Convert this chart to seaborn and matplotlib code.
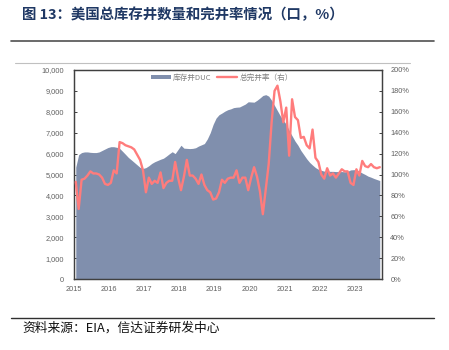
import numpy as np
import pandas as pd
import matplotlib
matplotlib.use("Agg")
import matplotlib.pyplot as plt
from matplotlib.lines import Line2D
from matplotlib.patches import Patch
from matplotlib.ticker import FuncFormatter, MultipleLocator
import seaborn as sns

# ---- data (monthly, Jan 2015 - Sep 2023) ----
duc = [5350, 5950, 6050, 6080, 6080, 6060, 6050, 6050, 6080, 6150, 6220, 6290,
       6330, 6330, 6300, 6250, 6110, 5965, 5815, 5700, 5580, 5460, 5340, 5290,
       5330, 5420, 5530, 5610, 5670, 5730, 5780, 5880, 5990, 6090, 6000, 6200,
       6400, 6260, 6250, 6240, 6250, 6280, 6360, 6420, 6480, 6700, 7000, 7400,
       7700, 7860, 7940, 8030, 8100, 8140, 8200, 8220, 8230, 8300, 8370, 8480,
       8470, 8460, 8550, 8660, 8780, 8820, 8750, 8550, 8300, 8050, 7800, 7600,
       7400, 7100, 6850, 6600, 6400, 6150, 5950, 5750, 5580, 5450, 5330, 5250,
       5200, 5160, 5150, 5150, 5150, 5140, 5140, 5140, 5130, 5150, 5220, 5230,
       5230, 5150, 5070, 5000, 4920, 4870, 4810, 4760, 4710]
rate = [93, 67, 95, 96, 99, 103, 101, 101, 100, 97, 91, 90,
        92, 104, 101, 131, 130, 128, 127, 126, 124, 119, 114, 104,
        83, 97, 91, 94, 92, 102, 87, 92, 94, 94, 112, 97,
        85, 98, 114, 99, 99, 96, 91, 100, 90, 85, 83, 76,
        77, 83, 95, 92, 96, 97, 97, 104, 92, 97, 97, 85,
        97, 107, 98, 84, 62, 86, 110, 150, 180, 185, 170, 150,
        164, 118, 172, 155, 152, 135, 136, 128, 125, 143, 116, 112,
        100, 96, 106, 99, 101, 97, 101, 105, 103, 103, 92, 90,
        105, 99, 113, 108, 107, 110, 107, 106, 107]
years = [2015, 2016, 2017, 2018, 2019, 2020, 2021, 2022, 2023]
left_ticks = list(range(0, 10001, 1000))
right_ticks = list(range(0, 201, 20))
duc_label = "库存井DUC"
rate_label = "总完井率（右）"
title = "图 13：美国总库存井数量和完井率情况（口，%）"
source = "资料来源：EIA，信达证券研发中心"

months = pd.date_range("2015-01-01", periods=len(duc), freq="MS")
df = pd.DataFrame({"date": months, "duc": duc, "rate": rate})
df["t"] = df["date"].dt.year + (df["date"].dt.month - 1 + 0.6) / 12.0

sns.set_style("white")
plt.rcParams["font.family"] = ["Liberation Sans", "Noto Sans CJK SC", "DejaVu Sans"]

fig = plt.figure(figsize=(4.49, 3.5), dpi=100)
ax = fig.add_axes([74 / 449, 1 - 279 / 350, 308 / 449, 209 / 350])

area_color = "#808fad"
line_color = "#ff7c7c"
tick_color = "#606060"
spine_color = "#404040"

ax.fill_between(df["t"], 0, df["duc"], color=area_color, lw=0, zorder=1)
ax.set_xlim(2015.0, 2023.78)
ax.set_ylim(0, 10000)
ax.set_yticks(left_ticks)
ax.yaxis.set_major_formatter(FuncFormatter(lambda v, p: f"{int(v):,}"))
ax.set_xticks(years)
ax.set_xticklabels([str(y) for y in years])

ax2 = ax.twinx()
sns.lineplot(data=df, x="t", y="rate", ax=ax2, color=line_color, lw=1.7, zorder=3)
ax2.set_ylim(0, 200)
ax2.set_yticks(right_ticks)
ax2.set_yticklabels([f"{v}%" for v in right_ticks])
ax2.set_xlim(2015.0, 2023.78)
ax.set_xlabel("")
ax.set_ylabel("")
ax2.set_xlabel("")
ax2.set_ylabel("")

for a in (ax, ax2):
    for s in a.spines.values():
        s.set_color(spine_color)
        s.set_linewidth(0.9)
        s.set_visible(True)
    a.tick_params(direction="in", length=2.5, width=0.7, color=spine_color,
                  labelsize=5.3, labelcolor=tick_color)
ax.tick_params(axis="y", pad=7)
ax.tick_params(axis="x", pad=5)
ax2.tick_params(axis="y", pad=6)

handles = [Patch(facecolor=area_color, edgecolor="none", label=duc_label),
           Line2D([0], [0], color=line_color, lw=1.7, label=rate_label)]
leg = ax2.legend(handles=handles, loc="upper center", bbox_to_anchor=(0.48, 1.015),
                 ncol=2, frameon=False, handlelength=2.6,
                 handleheight=0.6, columnspacing=0.8, handletextpad=0.3,
                 prop={"family": ["Noto Sans CJK SC", "DejaVu Sans"], "size": 5.5})
for txt in leg.get_texts():
    txt.set_color("#808080")

# title, rules and source
fig.text(22 / 449, 1 - 15 / 350, title, fontsize=10.4, fontweight="bold",
         color="#1f3864", va="center", ha="left",
         family=["Noto Sans CJK SC", "DejaVu Sans"])
fig.add_artist(Line2D([11 / 449, 434 / 449], [1 - 41 / 350, 1 - 41 / 350],
                      color="#505050", lw=1.2))
fig.add_artist(Line2D([15 / 449, 410 / 449], [1 - 63 / 350, 1 - 63 / 350],
                      color="#c0c0c0", lw=0.8))
fig.add_artist(Line2D([11 / 449, 434 / 449], [1 - 318 / 350, 1 - 318 / 350],
                      color="#303030", lw=1.0))
fig.text(22 / 449, 1 - 328 / 350, source, fontsize=9.2, style="italic",
         color="#111111", va="center", ha="left",
         family=["Noto Sans CJK SC", "DejaVu Sans"])

fig.savefig("out.png", dpi=100)
